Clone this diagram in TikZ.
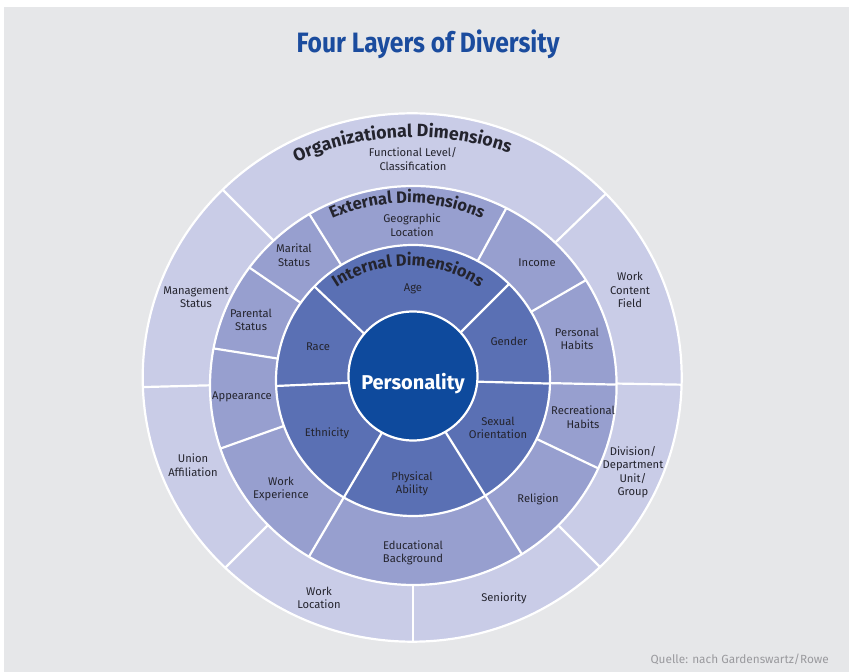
\documentclass[tikz,border=0pt]{standalone}
\usepackage{fontspec}
\setmainfont{Fira Sans}
\usetikzlibrary{decorations.text}

\definecolor{bggray}{HTML}{E6E7E9}
\definecolor{orgring}{HTML}{C9CCE7}
\definecolor{extring}{HTML}{979FCF}
\definecolor{intring}{HTML}{5A70B4}
\definecolor{corefill}{HTML}{0E4A9D}
\definecolor{titleblue}{HTML}{1B4C9E}
\definecolor{labeltext}{HTML}{24242E}
\definecolor{sourcegray}{HTML}{9A9A9E}

\newcommand\ringtitlefont{\fontsize{16.5}{17}\selectfont\bfseries\color{labeltext}}
\newcommand\orgtitlefont{\fontsize{17.8}{18}\selectfont\bfseries\color{labeltext}}

\tikzset{
  ringedge/.style={draw=white, line width=2.2pt},
  divider/.style={draw=white, line width=2.2pt},
  lbl/.style={align=center, text=labeltext, font=\fontsize{11.2}{13.5}\selectfont, inner sep=0pt},
}

\begin{document}
\begin{tikzpicture}[x=1pt,y=1pt]
\useasboundingbox (0,0) rectangle (849,672);
\fill[white] (0,0) rectangle (849,672);
\fill[bggray] (4,0) rectangle (849,665);

% centres of the rings and of the dividing rays
\coordinate (corec) at (413,296);
\coordinate (intc) at (413,291.5);
\coordinate (extc) at (413.3,286.5);
\coordinate (orgc) at (412.2,294.5);
\coordinate (rayc) at (413,292);

% organizational ring
\path[fill=orgring, ringedge] (orgc) ellipse [x radius=269.5, y radius=264.2];
\begin{scope}
  \clip (orgc) ellipse [x radius=269.5, y radius=264.2];
  \foreach \a in {44,-1,-45,-90,-135,181.5,135}
    \draw[divider] (rayc) -- ++(\a:300);
\end{scope}

% external ring
\path[fill=extring, ringedge] (extc) ellipse [x radius=203.3, y radius=199.5];
\begin{scope}
  \clip (extc) ellipse [x radius=203.3, y radius=199.5];
  \foreach \a in {61.5,30,-1.3,-25.5,-58,-120.5,199.6,171,145.5,122}
    \draw[divider] (rayc) -- ++(\a:250);
\end{scope}

% internal ring
\path[fill=intring, ringedge] (intc) ellipse [x radius=137, y radius=135.5];
\begin{scope}
  \clip (intc) ellipse [x radius=137, y radius=135.5];
  \foreach \a in {45,-1.5,-58,-120.5,182.5,136.5}
    \draw[divider] (rayc) -- ++(\a:200);
\end{scope}

% core
\path[fill=corefill, ringedge] (corec) circle [radius=64.5];
\node[text=white, font=\fontsize{20}{22}\selectfont\bfseries] (core) at (413,288) {Personality};

% curved ring titles
\path[decorate, decoration={text along path, text align=center,
      text={|\orgtitlefont|Organizational Dimensions}}]
  (414,246) ++(128.4:289) arc[start angle=128.4, end angle=56.4, radius=289];
\path[decorate, decoration={text along path, text align=center,
      text={|\ringtitlefont|External Dimensions}}]
  (407,286) ++(140:183) arc[start angle=140, end angle=40, radius=183];
\path[decorate, decoration={text along path, text align=center,
      text={|\ringtitlefont|Internal Dimensions}}]
  (408,276) ++(145:130) arc[start angle=145, end angle=35, radius=130];

% internal dimensions
\node[lbl] (age) at (413,383) {Age};
\node[lbl] (gender) at (509,331) {Gender};
\node[lbl] (sexual) at (498,244) {Sexual\\Orientation};
\node[lbl] (physical) at (412,188) {Physical\\Ability};
\node[lbl] (ethnicity) at (327,239) {Ethnicity};
\node[lbl] (race) at (318,325) {Race};

% external dimensions
\node[lbl] (geo) at (412,447) {Geographic\\Location};
\node[lbl] (income) at (537,409) {Income};
\node[lbl] (personal) at (577,333) {Personal\\Habits};
\node[lbl] (recreational) at (583,255) {Recreational\\Habits};
\node[lbl] (religion) at (538,173) {Religion};
\node[lbl] (education) at (413,119) {Educational\\Background};
\node[lbl] (workexp) at (281,183) {Work\\Experience};
\node[lbl] (appearance) at (242,275) {Appearance};
\node[lbl] (parental) at (251,352) {Parental\\Status};
\node[lbl] (marital) at (294,417) {Marital\\Status};

% organizational dimensions
\node[lbl] (functional) at (413,513) {Functional Level/\\Classification};
\node[lbl] (content) at (630,382) {Work\\Content\\Field};
\node[lbl] (division) at (633,200) {Division/\\Department\\Unit/\\Group};
\node[lbl] (seniority) at (504,74) {Seniority};
\node[lbl] (location) at (319,74) {Work\\Location};
\node[lbl] (union) at (193,207) {Union\\Affiliation};
\node[lbl] (management) at (196,375) {Management\\Status};

% heading and source line
\node[anchor=base, text=titleblue] (title) at (428,619)
  {\scalebox{0.88}[1]{\fontsize{28}{30}\selectfont\bfseries Four Layers of Diversity}};
\node[anchor=base east, text=sourcegray, font=\fontsize{11.8}{12}\selectfont, inner sep=0pt] (source) at (829,8)
  {Quelle: nach Gardenswartz/Rowe};
\end{tikzpicture}
\end{document}
